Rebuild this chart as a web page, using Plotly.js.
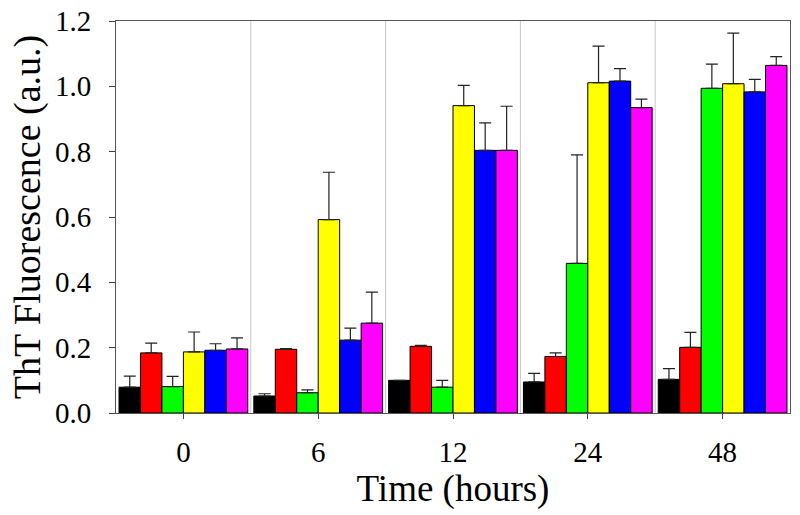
<!DOCTYPE html>
<html>
<head>
<meta charset="utf-8">
<script src="https://cdn.plot.ly/plotly-3.0.1.min.js"></script>
<style>
html,body{margin:0;padding:0;background:#fff;}
#chart{width:800px;height:515px;}
#chart .xtick text, #chart .ytick text {font-family: 'Liberation Serif', serif !important; font-size: 29px !important; fill: #000 !important;}
#chart .xtitle, #chart .ytitle {font-family: 'Liberation Serif', serif !important;}
</style>
</head>
<body>
<div id="chart"></div>
<script>
const timeLabels = ['0', '6', '12', '24', '48'];
const seriesColors = ['#000000', '#ff0000', '#00ff00', '#ffff00', '#0000ff', '#ff00ff'];

const blackVals   = [0.079, 0.052, 0.100, 0.095, 0.103];
const blackErr    = [0.034, 0.007, 0.000, 0.026, 0.033];
const redVals     = [0.184, 0.195, 0.204, 0.173, 0.201];
const redErr      = [0.030, 0.002, 0.003, 0.011, 0.046];
const greenVals   = [0.081, 0.062, 0.079, 0.458, 0.994];
const greenErr    = [0.031, 0.009, 0.021, 0.332, 0.074];
const yellowVals  = [0.187, 0.592, 0.941, 1.011, 1.008];
const yellowErr   = [0.061, 0.145, 0.062, 0.112, 0.155];
const blueVals    = [0.192, 0.223, 0.804, 1.016, 0.983];
const blueErr     = [0.020, 0.037, 0.084, 0.038, 0.038];
const magentaVals = [0.196, 0.275, 0.804, 0.935, 1.064];
const magentaErr  = [0.034, 0.095, 0.135, 0.026, 0.027];

const allVals = [blackVals, redVals, greenVals, yellowVals, blueVals, magentaVals];
const allErr  = [blackErr, redErr, greenErr, yellowErr, blueErr, magentaErr];

const FONT = 'Liberation Serif';

const traces = allVals.map((vals, i) => ({
  type: 'bar',
  x: timeLabels,
  y: vals,
  marker: {color: seriesColors[i], line: {color: '#000', width: 1}},
  error_y: {
    type: 'data', symmetric: false,
    array: allErr[i], arrayminus: vals.map(() => 0),
    color: '#222', thickness: 1.2, width: 6
  },
  showlegend: false,
  hoverinfo: 'y'
}));

const shapes = [0.5, 1.5, 2.5, 3.5].map(p => ({
  type: 'line', xref: 'x', yref: 'paper',
  x0: p, x1: p, y0: 0, y1: 1,
  line: {color: '#c8c8c8', width: 1},
  layer: 'below'
}));

const layout = {
  width: 800, height: 515,
  margin: {l: 116, r: 10, t: 21, b: 102},
  paper_bgcolor: '#fff', plot_bgcolor: '#fff',
  font: {family: FONT, color: '#000', size: 29},
  barmode: 'group',
  bargap: 0.045,
  bargroupgap: 0,
  shapes: shapes,
  xaxis: {
    type: 'category',
    tickfont: {family: FONT, size: 29, color: '#000'},
    ticks: 'outside', ticklen: 5, tickcolor: '#444',
    ticklabelstandoff: 8,
    showgrid: false,
    showline: true, linecolor: '#555', linewidth: 1, mirror: true,
    title: {text: 'Time (hours)', font: {family: FONT, size: 37, color: '#000'}, standoff: 0},
    range: [-0.5, 4.5]
  },
  yaxis: {
    range: [0, 1.2], dtick: 0.2, tickformat: '.1f',
    tickfont: {family: FONT, size: 29, color: '#000'},
    ticks: 'outside', ticklen: 6, tickcolor: '#444',
    ticklabelstandoff: 12,
    showgrid: false, zeroline: false,
    showline: true, linecolor: '#555', linewidth: 1, mirror: true,
    title: {text: 'ThT Fluorescence (a.u.)', font: {family: FONT, size: 38, color: '#000'}, standoff: 2}
  }
};

Plotly.newPlot('chart', traces, layout, {displayModeBar: false, staticPlot: true});
</script>
</body>
</html>
